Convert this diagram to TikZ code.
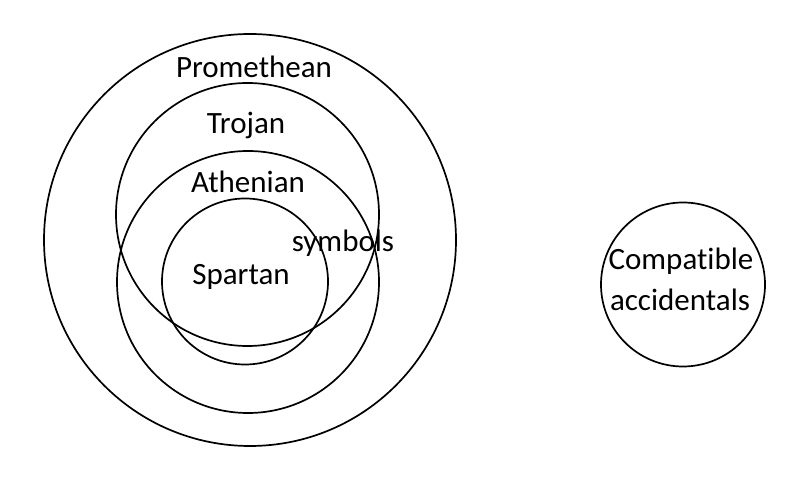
\documentclass[tikz,border=0pt]{standalone}
\usepackage{fontspec}
\setmainfont[Ligatures={NoCommon}]{Carlito}
\begin{document}
\begin{tikzpicture}[x=1pt,y=1pt,
  ring/.style={draw=black,line width=1.7pt},
  lbl/.style={anchor=base,inner sep=0pt,font=\fontsize{31}{38}\selectfont}]
\useasboundingbox (0,0) rectangle (800,479);
% circles (image y flipped: y = 479 - y_img)
\draw[ring] (250,239) circle[radius=206];
\draw[ring] (247.5,264.5) circle[radius=131.5];
\draw[ring] (248,197) circle[radius=131];
\draw[ring] (245,197.5) circle[radius=83];
\draw[ring] (683,194.5) circle[radius=82];
% labels
\node[lbl] (prom) at (254,401) {Promethean};
\node[lbl] (troj) at (246,345) {Trojan};
\node[lbl] (athe) at (248,286) {Athenian};
\node[lbl] (spar) at (241,194) {Spartan};
\node[lbl] (symb) at (343,227) {symbols};
\node[lbl] (comp) at (681,209) {Compatible};
\node[lbl] (acci) at (680,168) {accidentals};
\end{tikzpicture}
\end{document}
